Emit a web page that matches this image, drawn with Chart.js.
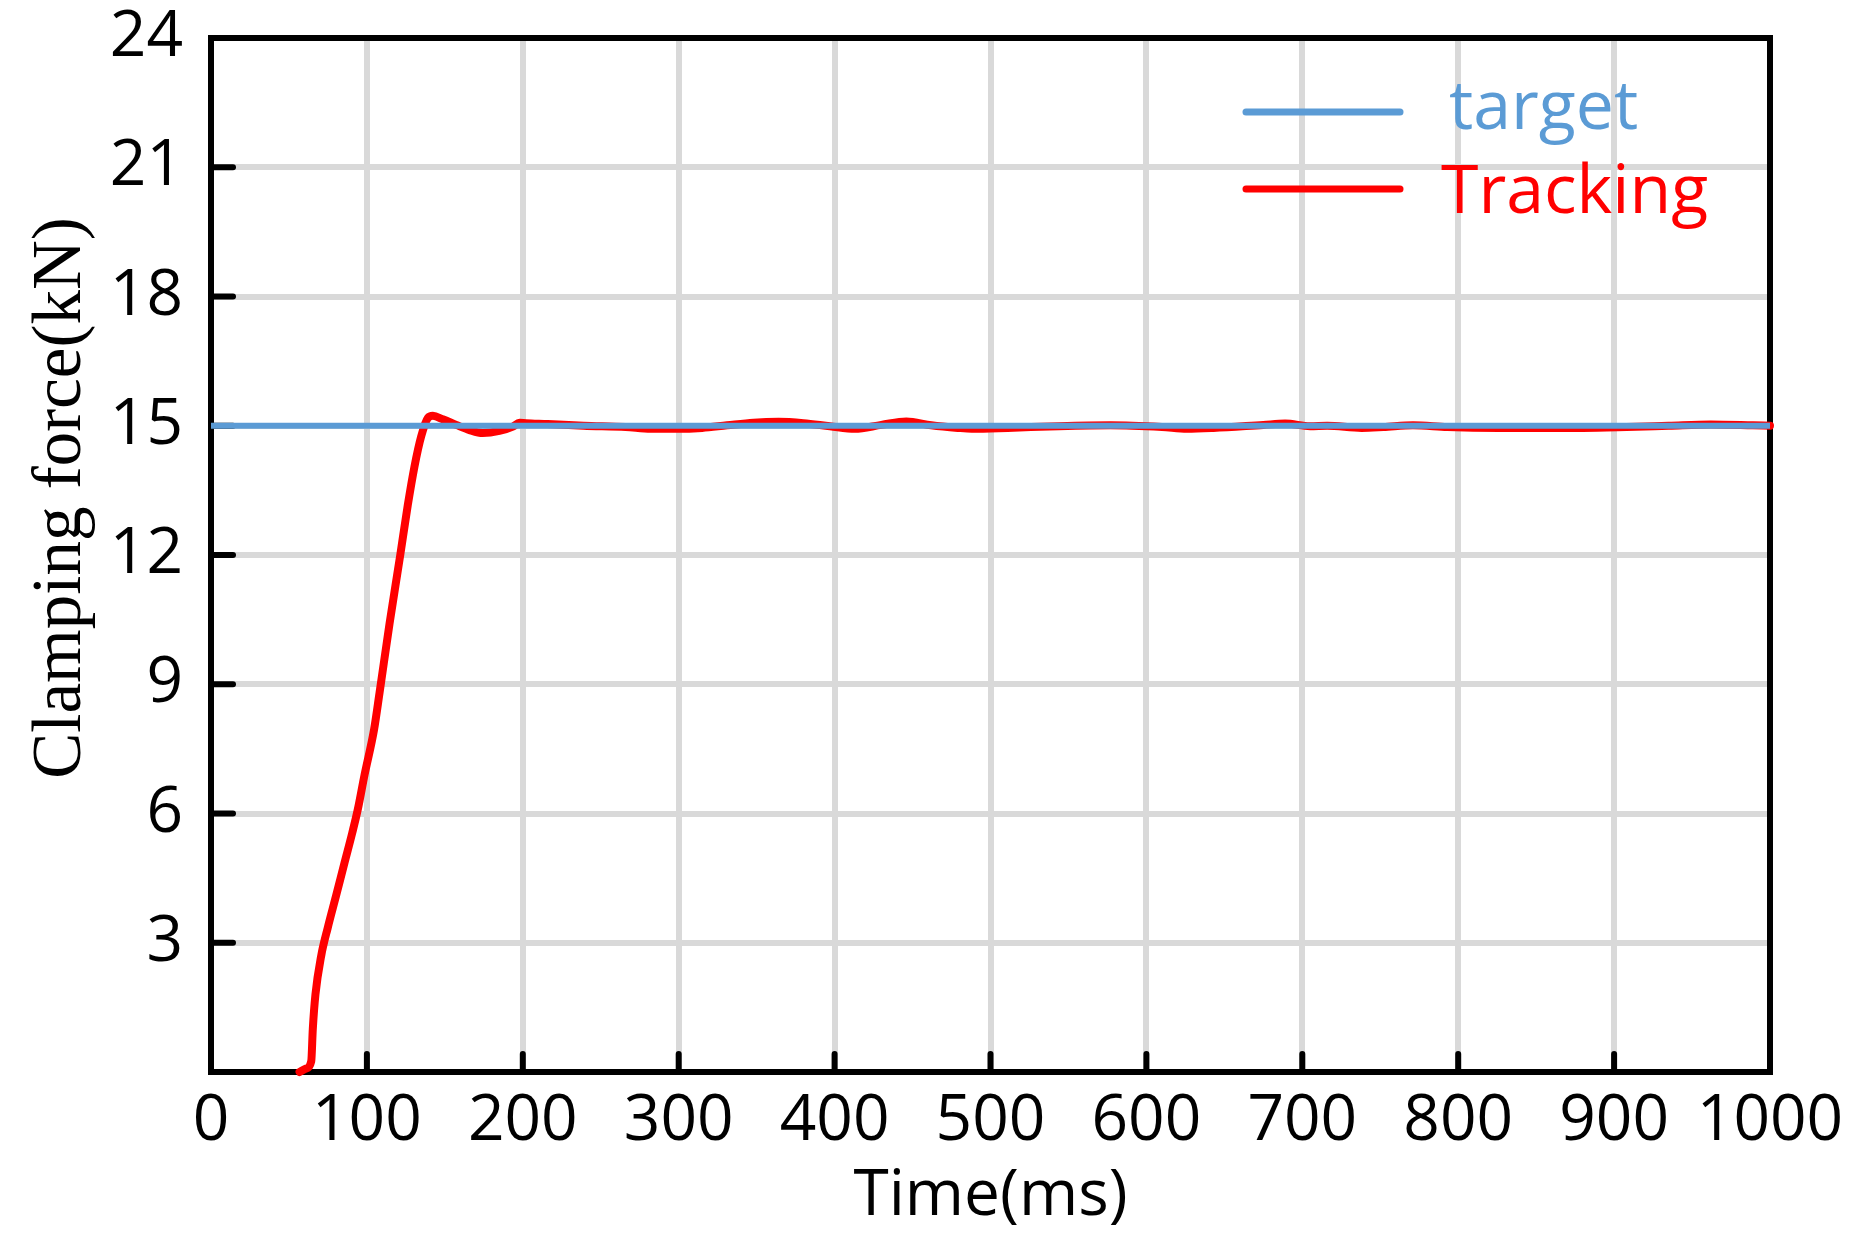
<!DOCTYPE html>
<html>
<head>
<meta charset="utf-8">
<script src="https://cdn.jsdelivr.net/npm/chart.js@4.4.0/dist/chart.umd.min.js"></script>
<style>
  html, body { margin: 0; padding: 0; background: #fff; }
  #wrap { width: 1863px; height: 1252px; }
</style>
</head>
<body>
<div id="wrap"><canvas id="grafico"></canvas></div>
<script>
// ticks dos eixos
const xTicks = [0, 100, 200, 300, 400, 500, 600, 700, 800, 900, 1000];
const yTicks = [0, 3, 6, 9, 12, 15, 18, 21, 24];

// referencia (target)
const targetTime = [0, 1000];
const targetForce = [15, 15];

// resposta medida (Tracking)
const trackTime = [56.8, 61, 64.3, 65.3, 67, 70.7, 74.9, 80.3, 85.6, 90.6, 94.2, 98.5, 104.6, 108.1,
  114.5, 121.4, 126.2, 130.5, 134.8, 139.1, 142.3, 148.7, 157.3, 165.8, 174.3, 185, 193.6, 197.9,
  202, 216, 239, 266, 282, 298, 315, 331, 348, 364, 380, 397, 413, 430, 446, 462, 479, 488, 511,
  544, 577, 610, 626, 643, 675, 689, 705, 716, 738, 752, 771, 793, 826, 880, 908, 935, 962, 989, 1000];
const trackForce = [0, 0.08, 0.25, 1.0, 1.8, 2.7, 3.35, 4.1, 4.85, 5.55, 6.1, 6.9, 7.95, 8.8,
  10.4, 12.0, 13.15, 14.05, 14.75, 15.18, 15.23, 15.15, 15.02, 14.9, 14.83, 14.88, 14.98, 15.07,
  15.06, 15.04, 15.0, 14.97, 14.93, 14.93, 14.95, 15.01, 15.07, 15.09, 15.06, 14.99, 14.93, 15.02, 15.1, 15.01, 14.95, 14.93, 14.95,
  14.99, 15.01, 14.97, 14.93, 14.95, 15.02, 15.05, 14.99, 15.0, 14.95, 14.97, 15.01, 14.97, 14.95, 14.95, 14.97, 15.0, 15.03, 15.01, 15.0];

const labels = ['target', 'Tracking'];
const cores = ['#5b9bd5', '#ff0000'];

const fonteTick = { family: '"Open Sans", sans-serif', size: 64 };

function pares(xs, ys) {
  return xs.map((x, i) => ({ x, y: ys[i] }));
}

// moldura preta + ticks para dentro
const moldura = {
  id: 'moldura',
  beforeDatasetsDraw(chart) {
    const { ctx, chartArea: a, scales } = chart;
    ctx.save();
    ctx.strokeStyle = '#000';
    ctx.lineWidth = 6;
    ctx.lineCap = 'round';
    xTicks.forEach(v => {
      if (v === xTicks[0] || v === xTicks[xTicks.length - 1]) return;
      const px = scales.x.getPixelForValue(v);
      ctx.beginPath(); ctx.moveTo(px, a.bottom); ctx.lineTo(px, a.bottom - 18); ctx.stroke();
    });
    yTicks.forEach(v => {
      if (v === yTicks[0] || v === yTicks[yTicks.length - 1]) return;
      const py = scales.y.getPixelForValue(v);
      ctx.beginPath(); ctx.moveTo(a.left, py); ctx.lineTo(a.left + 22, py); ctx.stroke();
    });
    ctx.lineCap = 'butt';
    ctx.lineJoin = 'miter';
    ctx.strokeRect(a.left, a.top, a.right - a.left, a.bottom - a.top);
    ctx.restore();
  }
};

// titulo do eixo y (fonte serifada, deslocado para cima como no original)
const tituloY = {
  id: 'tituloY',
  afterDraw(chart) {
    const { ctx } = chart;
    ctx.save();
    ctx.translate(62, 498);
    ctx.rotate(-Math.PI / 2);
    ctx.font = '69px "Liberation Serif", "Times New Roman", serif';
    ctx.fillStyle = '#000';
    ctx.textAlign = 'center';
    ctx.textBaseline = 'middle';
    ctx.fillText('Clamping force(kN)', 0, 0);
    ctx.restore();
  }
};

// legenda dentro da area do grafico
const legenda = {
  id: 'legenda',
  afterDatasetsDraw(chart) {
    const { ctx } = chart;
    const linhas = [
      { y: 112, base: 129, xt: 1449 },
      { y: 189, base: 213, xt: 1441 }
    ];
    ctx.save();
    chart.data.datasets.forEach((ds, i) => {
      const l = linhas[i];
      ctx.strokeStyle = ds.borderColor;
      ctx.lineWidth = 7;
      ctx.lineCap = 'round';
      ctx.beginPath(); ctx.moveTo(1246, l.y); ctx.lineTo(1400, l.y); ctx.stroke();
      ctx.fillStyle = ds.borderColor;
      ctx.font = '68px "Open Sans", sans-serif';
      ctx.textBaseline = 'alphabetic';
      ctx.textAlign = 'left';
      ctx.fillText(ds.label, l.xt, l.base);
    });
    ctx.restore();
  }
};

new Chart(document.getElementById('grafico'), {
  type: 'line',
  data: {
    datasets: [
      {
        label: labels[0],
        data: pares(targetTime, targetForce),
        borderColor: cores[0],
        borderWidth: 6,
        pointRadius: 0,
        tension: 0
      },
      {
        label: labels[1],
        data: pares(trackTime, trackForce),
        borderColor: cores[1],
        borderWidth: 8,
        pointRadius: 0,
        cubicInterpolationMode: 'monotone',
        borderCapStyle: 'round',
        borderJoinStyle: 'round',
        clip: false
      }
    ]
  },
  options: {
    responsive: true,
    maintainAspectRatio: false,
    animation: false,
    layout: { padding: { top: 38, right: 93, left: 0, bottom: 0 } },
    plugins: {
      legend: { display: false },
      tooltip: { enabled: false }
    },
    scales: {
      x: {
        type: 'linear',
        min: 0,
        max: 1000,
        afterBuildTicks: s => { s.ticks = xTicks.map(v => ({ value: v })); },
        afterFit: s => { s.height = 180; s.paddingLeft = 0; s.paddingRight = 0; },
        grid: { color: '#d9d9d9', lineWidth: 6, drawTicks: false },
        border: { display: false },
        ticks: {
          color: '#000',
          font: fonteTick,
          padding: 11,
          maxRotation: 0,
          autoSkip: false,
          callback: v => String(v)
        },
        title: {
          display: true,
          text: 'Time(ms)',
          color: '#000',
          font: fonteTick,
          padding: { top: 0, bottom: 17 }
        }
      },
      y: {
        min: 0,
        max: 24,
        afterBuildTicks: s => { s.ticks = yTicks.map(v => ({ value: v })); },
        afterFit: s => { s.width = 211; s.paddingTop = 0; s.paddingBottom = 0; },
        grid: { color: '#d9d9d9', lineWidth: 6, drawTicks: false },
        border: { display: false },
        ticks: {
          color: '#000',
          font: fonteTick,
          padding: 28,
          callback: v => (v === 0 ? '' : String(v))
        }
      }
    }
  },
  plugins: [moldura, tituloY, legenda]
});
</script>
</body>
</html>
